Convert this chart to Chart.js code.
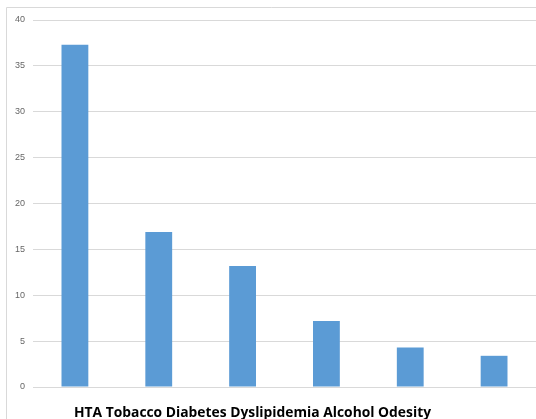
<!DOCTYPE html>
<html>
<head>
<meta charset="utf-8">
<script src="https://cdn.jsdelivr.net/npm/chart.js@4"></script>
<style>
  html, body { margin: 0; padding: 0; background: #fff; }
  #wrap { width: 536px; height: 419px; position: relative; }
</style>
</head>
<body>
<div id="wrap"><canvas id="c" width="536" height="419"></canvas></div>
<script>
// Risk factors and their share (%)
const categories = ['HTA', 'Tobacco', 'Diabetes', 'Dyslipidemia', 'Alcohol', 'Odesity'];
const values = [37.3, 16.9, 13.2, 7.2, 4.3, 3.4];
const yTicks = { min: 0, max: 40, step: 5 };

// Outer frame of the chart object
const framePlugin = {
  id: 'frame',
  beforeDraw(chart) {
    const ctx = chart.ctx;
    ctx.save();
    ctx.strokeStyle = '#d9d9d9';
    ctx.lineWidth = 1;
    ctx.beginPath();
    ctx.moveTo(6.5, 419);
    ctx.lineTo(6.5, 7.5);
    ctx.lineTo(536, 7.5);
    ctx.stroke();
    ctx.restore();
  }
};

// Category names written as one bold line beneath the plot
const categoryLinePlugin = {
  id: 'categoryLine',
  afterDraw(chart) {
    const ctx = chart.ctx;
    ctx.save();
    ctx.font = 'bold 15px "Open Sans", sans-serif';
    ctx.fillStyle = '#000';
    ctx.textBaseline = 'middle';
    ctx.textAlign = 'left';
    ctx.fillText(categories.join(' '), 74, 413, 357);
    ctx.restore();
  }
};

new Chart(document.getElementById('c'), {
  type: 'bar',
  data: {
    labels: categories,
    datasets: [{
      data: values,
      backgroundColor: '#5b9bd5',
      borderWidth: 0,
      barPercentage: 0.64,
      categoryPercentage: 0.5
    }]
  },
  options: {
    responsive: false,
    animation: false,
    layout: { padding: { left: 6, top: 20, right: 0, bottom: 32 } },
    plugins: { legend: { display: false }, tooltip: { enabled: false } },
    scales: {
      x: {
        grid: { display: false },
        border: { display: false },
        ticks: { display: false },
        afterFit(s) { s.height = 0; }
      },
      y: {
        min: yTicks.min,
        max: yTicks.max,
        ticks: {
          stepSize: yTicks.step,
          color: '#666666',
          font: { size: 9, family: 'Liberation Sans, sans-serif' },
          padding: 8
        },
        grid: { color: '#d9d9d9', drawTicks: false },
        border: { display: false },
        afterFit(s) { s.width = 27; }
      }
    }
  },
  plugins: [framePlugin, categoryLinePlugin]
});
</script>
</body>
</html>
